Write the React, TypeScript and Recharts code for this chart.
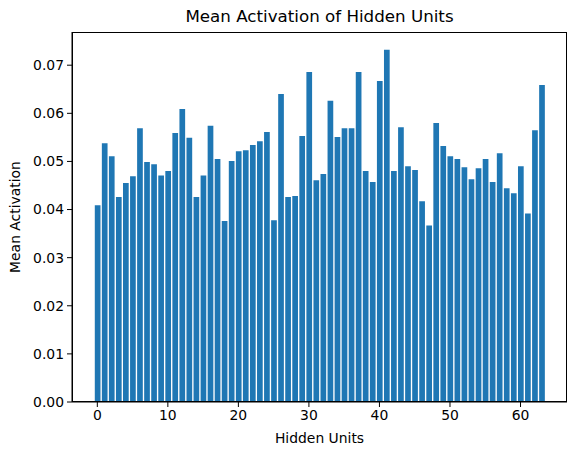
import React from 'react';
import { BarChart, Bar, XAxis, YAxis, Label } from 'recharts';

// hidden unit index 0..63
const units = Array.from({ length: 64 }, (_, i) => i);

const meanActivation = [
  0.0409, 0.0538, 0.0511, 0.0426, 0.0455, 0.0469, 0.0569, 0.0499,
  0.0494, 0.0471, 0.0480, 0.0559, 0.0609, 0.0549, 0.0426, 0.0471,
  0.0574, 0.0505, 0.0376, 0.0501, 0.0521, 0.0523, 0.0534, 0.0542,
  0.0561, 0.0378, 0.0640, 0.0426, 0.0428, 0.0553, 0.0686, 0.0461,
  0.0474, 0.0626, 0.0551, 0.0569, 0.0569, 0.0686, 0.0480, 0.0457,
  0.0667, 0.0732, 0.0480, 0.0571, 0.0490, 0.0482, 0.0417, 0.0367,
  0.0580, 0.0532, 0.0511, 0.0505, 0.0488, 0.0463, 0.0486, 0.0505,
  0.0457, 0.0517, 0.0444, 0.0434, 0.0490, 0.0392, 0.0565, 0.0659,
];

const xTicks = [0, 10, 20, 30, 40, 50, 60];
const yTicks = [0, 0.01, 0.02, 0.03, 0.04, 0.05, 0.06, 0.07];

const data = units.map((u, i) => ({ unit: u, value: meanActivation[i] }));

const FONT = 'DejaVu Sans, sans-serif';
const tickStyle = { fill: '#000', fontSize: 13.9, fontFamily: FONT };

export default function App() {
  return (
    <div style={{ position: 'absolute', left: 0, top: 0, width: 576, height: 455, background: '#fff' }}>
      <style>{`body{margin:0}`}</style>
      <div
        style={{
          position: 'absolute',
          left: 72,
          width: 495,
          top: 6,
          textAlign: 'center',
          fontFamily: FONT,
          fontSize: 16.7,
          color: '#000',
        }}
      >
        Mean Activation of Hidden Units
      </div>
      <BarChart
        width={576}
        height={455}
        data={data}
        margin={{ top: 32, right: 9, left: 0, bottom: 0 }}
      >
        <XAxis
          dataKey="unit"
          type="number"
          domain={[-3.59, 66.59]}
          ticks={xTicks}
          allowDataOverflow
          height={53}
          stroke="#000"
          tickLine={{ stroke: '#000' }}
          tickSize={5}
          tick={tickStyle}
          tickMargin={3}
        >
          <Label value="Hidden Units" position="insideBottom" offset={12} style={{ fill: '#000', fontSize: 13.9, fontFamily: FONT }} />
        </XAxis>
        <YAxis
          type="number"
          domain={[0, 0.0769]}
          ticks={yTicks}
          allowDataOverflow
          width={72}
          stroke="#000"
          tickLine={{ stroke: '#000' }}
          tickSize={5}
          tick={tickStyle}
          tickMargin={3}
          tickFormatter={(v: number) => v.toFixed(2)}
        >
          <Label value="Mean Activation" angle={-90} position="insideLeft" offset={15} style={{ textAnchor: 'middle', fill: '#000', fontSize: 13.9, fontFamily: FONT }} />
        </YAxis>
        <Bar dataKey="value" fill="#1f77b4" barSize={5.7} isAnimationActive={false} />
      </BarChart>
      {/* frame around the plot area */}
      <div
        style={{
          position: 'absolute',
          left: 72,
          top: 32,
          width: 495,
          height: 370,
          border: '1px solid #000',
          boxSizing: 'border-box',
          pointerEvents: 'none',
        }}
      />
    </div>
  );
}
